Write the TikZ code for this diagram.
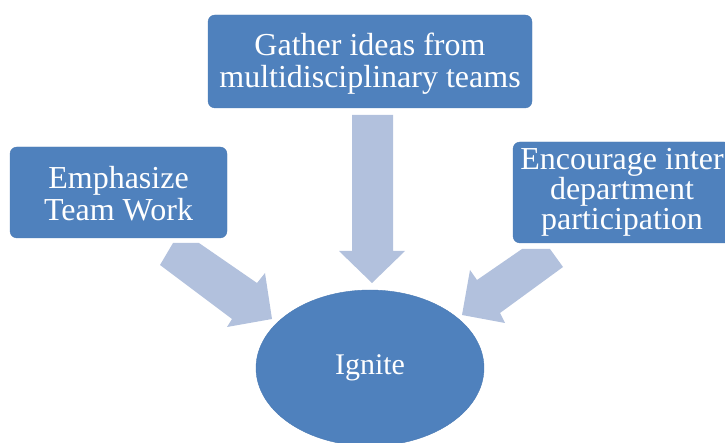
\documentclass[tikz,border=0pt]{standalone}
\usepackage{fontspec}
\setmainfont{Liberation Serif}
\usetikzlibrary{shapes.geometric}
\definecolor{boxblue}{HTML}{4F81BD}
\definecolor{boxedge}{HTML}{4A7AB4}
\definecolor{arrowblue}{HTML}{B2C1DD}
\tikzset{
  box/.style={draw=boxedge, fill=boxblue, rounded corners=7pt, inner sep=0pt},
  boxtext/.style={text=white, align=center, inner sep=0pt},
  blockarrow/.style={fill=arrowblue, draw=none},
  hub/.style={ellipse, draw=boxedge, fill=boxblue, text=white, inner sep=0pt,
    font=\fontsize{30}{30}\selectfont}
}
\begin{document}
\begin{tikzpicture}[x=1pt,y=-1pt]
\useasboundingbox (0,0) rectangle (725,443);
% block arrows
\fill[blockarrow] (352,115) -- (393,115) -- (393,251) -- (405,251) -- (372,283) -- (339,251) -- (352,251) -- cycle;
\fill[blockarrow] (160,265) -- (173,243) -- (199,243) -- (257,283) -- (265,273) -- (272,319) -- (227,327) -- (232,319) -- cycle;
\fill[blockarrow] (522,249) -- (550,249) -- (563,267) -- (500,313) -- (505,323) -- (462,315) -- (470,270) -- (477,280) -- cycle;
% boxes
\node[box, minimum width=324pt, minimum height=93pt] (gather) at (370,61.5) {};
\node[boxtext, font=\fontsize{32}{31.5}\selectfont, yshift=-2pt] (gathertext) at (gather.center) {Gather ideas from\\multidisciplinary teams};
\node[box, minimum width=217pt, minimum height=91pt] (team) at (118.5,192.5) {};
\node[boxtext, font=\fontsize{32}{32}\selectfont, yshift=-1pt] (teamtext) at (team.center) {Emphasize\\Team Work};
\node[box, minimum width=218pt, minimum height=101pt] (inter) at (622,192.5) {};
\node[boxtext, font=\fontsize{32}{30}\selectfont] (intertext) at (inter.center) {Encourage inter\\department\\participation};
\node[hub, minimum width=228pt, minimum height=156pt] (ignite) at (370,368) {\raisebox{-2pt}{Ignite}};
\end{tikzpicture}
\end{document}
